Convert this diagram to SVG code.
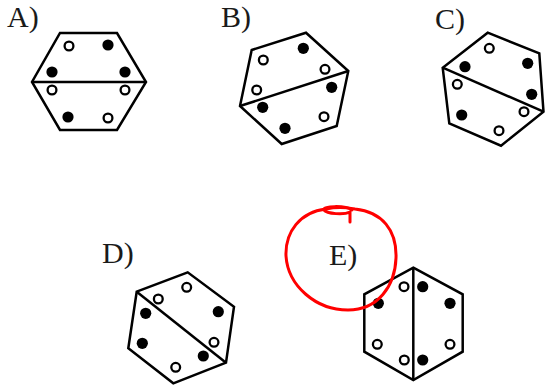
<svg xmlns="http://www.w3.org/2000/svg" width="545" height="387" viewBox="0 0 545 387">
<style>
.hex{fill:none;stroke:#000;stroke-width:2.5;stroke-linejoin:miter}
.ln{stroke:#000;stroke-width:2.5}
.f{fill:#000}
.o{fill:#fff;stroke:#000;stroke-width:2.3}
.lb{font-family:'Liberation Serif','Times New Roman',Times,serif;font-size:30px;fill:#1a1a1a}
.red{fill:none;stroke:#f00;stroke-width:3;stroke-linecap:round;stroke-linejoin:round}
</style>
<rect width="545" height="387" fill="#fff"/>
<g id="A">
<text class="lb" x="7" y="27">A)</text>
<polygon class="hex" points="60,33 117,33 146,82 117,130 60,130 32,82"/>
<line class="ln" x1="32" y1="82" x2="146" y2="82"/>
<circle class="o" cx="69" cy="46" r="4.4"/>
<circle class="f" cx="108" cy="45" r="5.6"/>
<circle class="f" cx="52" cy="72" r="5.6"/>
<circle class="f" cx="125" cy="72" r="5.6"/>
<circle class="o" cx="52" cy="90" r="4.4"/>
<circle class="o" cx="125" cy="90" r="4.4"/>
<circle class="f" cx="68" cy="117" r="5.6"/>
<circle class="o" cx="108" cy="118" r="4.4"/>
</g>
<g id="B">
<text class="lb" x="221" y="27">B)</text>
<polygon class="hex" points="251.7,50 306,32.7 348.3,71 336.7,126 281.7,144 240,106"/>
<line class="ln" x1="240" y1="106" x2="348.3" y2="71"/>
<circle class="f" cx="303.3" cy="48.3" r="5.6"/>
<circle class="o" cx="263.3" cy="60" r="4.4"/>
<circle class="o" cx="325" cy="69.3" r="4.4"/>
<circle class="o" cx="256.7" cy="90" r="4.4"/>
<circle class="f" cx="331.7" cy="87.3" r="5.6"/>
<circle class="f" cx="262.7" cy="107.3" r="5.6"/>
<circle class="o" cx="324" cy="116.7" r="4.4"/>
<circle class="f" cx="285" cy="128.3" r="5.6"/>
</g>
<g id="C">
<text class="lb" x="435" y="29">C)</text>
<polygon class="hex" points="487.7,32.7 539.3,53.3 543.5,111.7 501,145.7 449.3,123.3 442.7,67.7"/>
<line class="ln" x1="442.7" y1="67.7" x2="543.5" y2="111.7"/>
<circle class="o" cx="489.3" cy="48.3" r="4.4"/>
<circle class="f" cx="465" cy="66.7" r="5.6"/>
<circle class="f" cx="527.7" cy="63.3" r="5.6"/>
<circle class="o" cx="457.3" cy="84.3" r="4.4"/>
<circle class="f" cx="531.7" cy="94.3" r="5.6"/>
<circle class="o" cx="524" cy="111.7" r="4.4"/>
<circle class="f" cx="461.7" cy="115" r="5.6"/>
<circle class="o" cx="499" cy="130.7" r="4.4"/>
</g>
<g id="D">
<text class="lb" x="102" y="263">D)</text>
<polygon class="hex" points="136.7,291.7 187.7,272.3 234,306.7 226,362.7 173.3,383.3 128.3,348.3"/>
<line class="ln" x1="136.7" y1="291.7" x2="226" y2="362.7"/>
<circle class="o" cx="158.3" cy="299" r="4.4"/>
<circle class="o" cx="186.7" cy="287.3" r="4.4"/>
<circle class="f" cx="145.7" cy="313.3" r="5.6"/>
<circle class="f" cx="218.3" cy="311.7" r="5.6"/>
<circle class="f" cx="142.3" cy="343.3" r="5.6"/>
<circle class="o" cx="214" cy="342.3" r="4.4"/>
<circle class="f" cx="203.3" cy="356" r="5.6"/>
<circle class="o" cx="175.7" cy="367.3" r="4.4"/>
</g>
<g id="E">
<text class="lb" x="329" y="265">E)</text>
<polygon class="hex" points="413.3,267.7 462.7,294.3 462.7,351.7 413.3,380 364.3,351.7 364.3,294.3"/>
<line class="ln" x1="413.3" y1="267.7" x2="413.3" y2="380"/>
<circle class="o" cx="404" cy="286.7" r="4.4"/>
<circle class="f" cx="422.7" cy="286.7" r="5.6"/>
<circle class="f" cx="378.3" cy="303.3" r="5.6"/>
<circle class="f" cx="450" cy="303.3" r="5.6"/>
<circle class="o" cx="377.3" cy="344.3" r="4.4"/>
<circle class="o" cx="450" cy="344.3" r="4.4"/>
<circle class="o" cx="404.3" cy="360" r="4.4"/>
<circle class="f" cx="422.7" cy="360" r="5.6"/>
</g>
<g id="annotation">
<path class="red" d="M 326 209 C 300 212, 285 232, 286 256 C 288 286, 316 310, 348 310 C 378 310, 395 286, 396 258 C 397 230, 382 212, 355 209 C 345 207, 335 207, 326 209"/>
<path class="red" d="M 350 222 L 350 212 C 344 215, 327 214, 324 210 C 322 206, 345 205, 352 210"/>
</g>
</svg>
